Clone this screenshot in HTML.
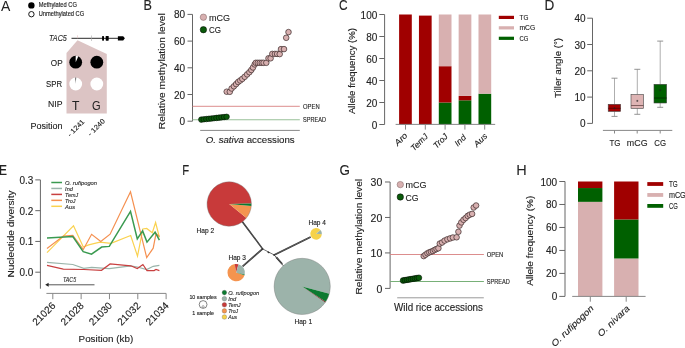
<!DOCTYPE html>
<html><head><meta charset="utf-8"><style>
html,body{margin:0;padding:0;background:#fff;overflow:hidden}
svg{display:block;will-change:transform}
text{font-family:"Liberation Sans", sans-serif;fill:#222;stroke:#222}
</style></head><body>
<svg xmlns="http://www.w3.org/2000/svg" width="685" height="348" viewBox="0 0 685 348">
<rect width="685" height="348" fill="#fff"/>
<text x="1.00" y="10.50" font-size="14" stroke-width="0.00">A</text>
<circle cx="31.40" cy="5.40" r="3.20" fill="#000" stroke="none" stroke-width="0.6"/>
<circle cx="31.40" cy="14.20" r="2.70" fill="#fff" stroke="#000" stroke-width="0.9"/>
<text x="38.70" y="7.40" font-size="7" textLength="38.2" lengthAdjust="spacingAndGlyphs" stroke-width="0.15">Methylated CG</text>
<text x="38.70" y="16.00" font-size="7" textLength="45.5" lengthAdjust="spacingAndGlyphs" stroke-width="0.15">Unmethylated CG</text>
<polygon points="66.5,53 77.5,40.3 106.8,54 106.8,113.4 66.5,113.4" fill="#dcc4c4"/>
<text x="49.00" y="41.10" font-size="8.5" font-style="italic" textLength="17.8" lengthAdjust="spacingAndGlyphs" stroke-width="0.10">TAC5</text>
<line x1="71.50" y1="38.30" x2="124.00" y2="38.30" stroke="#111" stroke-width="0.9"/>
<line x1="77.50" y1="35.30" x2="77.50" y2="38.30" stroke="#e6c0c0" stroke-width="0.6"/>
<line x1="91.50" y1="35.50" x2="91.50" y2="41.00" stroke="#aaa" stroke-width="0.6"/>
<rect x="102.1" y="36" width="1.9" height="4.7" rx="0.6" fill="#000"/>
<rect x="105.7" y="36" width="3" height="4.7" rx="0.6" fill="#000"/>
<path d="M117.9 36.2H123.2L124.9 38.3L123.2 40.6H117.9Z" fill="#000"/>
<circle cx="75.70" cy="62.20" r="6.40" fill="#000" stroke="none" stroke-width="0.6"/>
<path d="M75.70 62.20L75.70 55.80A6.40 6.40 0 0 1 78.30 56.35Z" fill="#fff"/>
<circle cx="96.80" cy="62.20" r="6.40" fill="#000" stroke="none" stroke-width="0.6"/>
<circle cx="75.70" cy="84.00" r="6.40" fill="#fff" stroke="none" stroke-width="0.6"/>
<path d="M75.70 84.00L75.48 77.60A6.40 6.40 0 0 1 76.15 77.62Z" fill="#000"/>
<circle cx="96.80" cy="84.00" r="6.40" fill="#fff" stroke="none" stroke-width="0.6"/>
<text x="75.70" y="110.00" font-size="13.4" text-anchor="middle" textLength="7.4" lengthAdjust="spacingAndGlyphs" stroke-width="0.05">T</text>
<text x="96.20" y="110.00" font-size="13.4" text-anchor="middle" textLength="8.6" lengthAdjust="spacingAndGlyphs" stroke-width="0.05">G</text>
<text x="62.60" y="66.10" font-size="8.8" text-anchor="end" textLength="11.8" lengthAdjust="spacingAndGlyphs" stroke-width="0.12">OP</text>
<text x="62.00" y="86.70" font-size="8.8" text-anchor="end" textLength="16" lengthAdjust="spacingAndGlyphs" stroke-width="0.12">SPR</text>
<text x="62.60" y="107.30" font-size="8.8" text-anchor="end" textLength="14.5" lengthAdjust="spacingAndGlyphs" stroke-width="0.12">NIP</text>
<text x="30.50" y="128.60" font-size="8.8" textLength="32" lengthAdjust="spacingAndGlyphs" stroke-width="0.12">Position</text>
<text x="85.00" y="122.30" font-size="7.04" text-anchor="end" textLength="21" lengthAdjust="spacingAndGlyphs" transform="rotate(-45 85.00 122.30)" stroke-width="0.12">- 1241</text>
<text x="105.40" y="121.60" font-size="7.04" text-anchor="end" textLength="21" lengthAdjust="spacingAndGlyphs" transform="rotate(-45 105.40 121.60)" stroke-width="0.12">- 1240</text>
<text x="143.40" y="10.00" font-size="14" textLength="8.4" lengthAdjust="spacingAndGlyphs" stroke-width="0.12">B</text>
<line x1="192.50" y1="14.40" x2="192.50" y2="121.20" stroke="#666" stroke-width="1"/>
<line x1="187.50" y1="121.20" x2="192.50" y2="121.20" stroke="#666" stroke-width="1"/>
<text x="185.00" y="125.20" font-size="10.0" text-anchor="end" stroke-width="0.12">0</text>
<line x1="187.50" y1="94.50" x2="192.50" y2="94.50" stroke="#666" stroke-width="1"/>
<text x="185.00" y="98.50" font-size="10.0" text-anchor="end" stroke-width="0.12">20</text>
<line x1="187.50" y1="67.80" x2="192.50" y2="67.80" stroke="#666" stroke-width="1"/>
<text x="185.00" y="71.80" font-size="10.0" text-anchor="end" stroke-width="0.12">40</text>
<line x1="187.50" y1="41.10" x2="192.50" y2="41.10" stroke="#666" stroke-width="1"/>
<text x="185.00" y="45.10" font-size="10.0" text-anchor="end" stroke-width="0.12">60</text>
<line x1="187.50" y1="14.40" x2="192.50" y2="14.40" stroke="#666" stroke-width="1"/>
<text x="185.00" y="18.40" font-size="10.0" text-anchor="end" stroke-width="0.12">80</text>
<text x="165.30" y="71.25" font-size="8.98" text-anchor="middle" textLength="116" lengthAdjust="spacingAndGlyphs" transform="rotate(-90 165.30 71.25)" stroke-width="0.12">Relative methylation level</text>
<circle cx="203.40" cy="17.20" r="3.20" fill="#d8b0b0" stroke="#7a6060" stroke-width="0.5"/>
<circle cx="203.40" cy="29.70" r="3.20" fill="#0a5a0a" stroke="#000" stroke-width="0.5"/>
<text x="209.00" y="21.00" font-size="9.4" textLength="21" lengthAdjust="spacingAndGlyphs" stroke-width="0.12">mCG</text>
<text x="209.00" y="33.10" font-size="9.4" textLength="12" lengthAdjust="spacingAndGlyphs" stroke-width="0.12">CG</text>
<line x1="192.50" y1="106.30" x2="299.80" y2="106.30" stroke="#d88080" stroke-width="0.9"/>
<line x1="192.50" y1="119.80" x2="299.80" y2="119.80" stroke="#98c098" stroke-width="1.1"/>
<text x="303.10" y="108.50" font-size="6.5" textLength="16.5" lengthAdjust="spacingAndGlyphs" stroke-width="0.12">OPEN</text>
<text x="303.10" y="121.90" font-size="6.5" textLength="23" lengthAdjust="spacingAndGlyphs" stroke-width="0.12">SPREAD</text>
<line x1="200.20" y1="130.40" x2="299.80" y2="130.40" stroke="#888" stroke-width="1"/>
<text x="205.7" y="142.7" font-size="9" stroke-width="0.12" textLength="89" lengthAdjust="spacingAndGlyphs"><tspan font-style="italic">O. sativa</tspan> accessions</text>
<circle cx="201.30" cy="119.60" r="2.80" fill="#0a5a0a" stroke="#000" stroke-width="0.5"/>
<circle cx="203.83" cy="119.32" r="2.80" fill="#0a5a0a" stroke="#000" stroke-width="0.5"/>
<circle cx="206.36" cy="119.04" r="2.80" fill="#0a5a0a" stroke="#000" stroke-width="0.5"/>
<circle cx="208.89" cy="118.76" r="2.80" fill="#0a5a0a" stroke="#000" stroke-width="0.5"/>
<circle cx="211.42" cy="118.48" r="2.80" fill="#0a5a0a" stroke="#000" stroke-width="0.5"/>
<circle cx="213.95" cy="118.20" r="2.80" fill="#0a5a0a" stroke="#000" stroke-width="0.5"/>
<circle cx="216.48" cy="117.92" r="2.80" fill="#0a5a0a" stroke="#000" stroke-width="0.5"/>
<circle cx="219.01" cy="117.64" r="2.80" fill="#0a5a0a" stroke="#000" stroke-width="0.5"/>
<circle cx="221.54" cy="117.36" r="2.80" fill="#0a5a0a" stroke="#000" stroke-width="0.5"/>
<circle cx="224.07" cy="117.08" r="2.80" fill="#0a5a0a" stroke="#000" stroke-width="0.5"/>
<circle cx="226.60" cy="116.80" r="2.80" fill="#0a5a0a" stroke="#000" stroke-width="0.5"/>
<circle cx="226.70" cy="91.70" r="2.80" fill="#d8b0b0" stroke="#3a2828" stroke-width="0.7"/>
<circle cx="229.80" cy="91.80" r="2.80" fill="#d8b0b0" stroke="#3a2828" stroke-width="0.7"/>
<circle cx="231.60" cy="88.50" r="2.80" fill="#d8b0b0" stroke="#3a2828" stroke-width="0.7"/>
<circle cx="233.90" cy="86.30" r="2.80" fill="#d8b0b0" stroke="#3a2828" stroke-width="0.7"/>
<circle cx="236.10" cy="84.10" r="2.80" fill="#d8b0b0" stroke="#3a2828" stroke-width="0.7"/>
<circle cx="238.10" cy="82.00" r="2.80" fill="#d8b0b0" stroke="#3a2828" stroke-width="0.7"/>
<circle cx="240.20" cy="80.50" r="2.80" fill="#d8b0b0" stroke="#3a2828" stroke-width="0.7"/>
<circle cx="242.30" cy="78.90" r="2.80" fill="#d8b0b0" stroke="#3a2828" stroke-width="0.7"/>
<circle cx="244.70" cy="76.80" r="2.80" fill="#d8b0b0" stroke="#3a2828" stroke-width="0.7"/>
<circle cx="247.10" cy="74.40" r="2.80" fill="#d8b0b0" stroke="#3a2828" stroke-width="0.7"/>
<circle cx="249.40" cy="72.20" r="2.80" fill="#d8b0b0" stroke="#3a2828" stroke-width="0.7"/>
<circle cx="251.30" cy="70.00" r="2.80" fill="#d8b0b0" stroke="#3a2828" stroke-width="0.7"/>
<circle cx="253.00" cy="67.50" r="2.80" fill="#d8b0b0" stroke="#3a2828" stroke-width="0.7"/>
<circle cx="254.70" cy="64.40" r="2.80" fill="#d8b0b0" stroke="#3a2828" stroke-width="0.7"/>
<circle cx="255.80" cy="62.80" r="2.80" fill="#d8b0b0" stroke="#3a2828" stroke-width="0.7"/>
<circle cx="257.80" cy="62.80" r="2.80" fill="#d8b0b0" stroke="#3a2828" stroke-width="0.7"/>
<circle cx="259.80" cy="62.80" r="2.80" fill="#d8b0b0" stroke="#3a2828" stroke-width="0.7"/>
<circle cx="261.80" cy="62.80" r="2.80" fill="#d8b0b0" stroke="#3a2828" stroke-width="0.7"/>
<circle cx="263.60" cy="62.80" r="2.80" fill="#d8b0b0" stroke="#3a2828" stroke-width="0.7"/>
<circle cx="266.30" cy="62.80" r="2.80" fill="#d8b0b0" stroke="#3a2828" stroke-width="0.7"/>
<circle cx="268.50" cy="58.30" r="2.80" fill="#d8b0b0" stroke="#3a2828" stroke-width="0.7"/>
<circle cx="270.60" cy="58.30" r="2.80" fill="#d8b0b0" stroke="#3a2828" stroke-width="0.7"/>
<circle cx="272.30" cy="53.90" r="2.80" fill="#d8b0b0" stroke="#3a2828" stroke-width="0.7"/>
<circle cx="274.90" cy="53.90" r="2.80" fill="#d8b0b0" stroke="#3a2828" stroke-width="0.7"/>
<circle cx="277.10" cy="53.90" r="2.80" fill="#d8b0b0" stroke="#3a2828" stroke-width="0.7"/>
<circle cx="279.70" cy="54.10" r="2.80" fill="#d8b0b0" stroke="#3a2828" stroke-width="0.7"/>
<circle cx="281.00" cy="49.10" r="2.80" fill="#d8b0b0" stroke="#3a2828" stroke-width="0.7"/>
<circle cx="284.00" cy="49.10" r="2.80" fill="#d8b0b0" stroke="#3a2828" stroke-width="0.7"/>
<circle cx="286.20" cy="37.80" r="2.80" fill="#d8b0b0" stroke="#3a2828" stroke-width="0.7"/>
<circle cx="288.50" cy="32.10" r="2.80" fill="#d8b0b0" stroke="#3a2828" stroke-width="0.7"/>
<text x="338.90" y="10.30" font-size="14" textLength="8.6" lengthAdjust="spacingAndGlyphs" stroke-width="0.12">C</text>
<line x1="384.60" y1="14.50" x2="384.60" y2="124.50" stroke="#666" stroke-width="1"/>
<line x1="379.30" y1="124.50" x2="384.60" y2="124.50" stroke="#666" stroke-width="1"/>
<text x="377.30" y="128.50" font-size="10.0" text-anchor="end" stroke-width="0.12">0</text>
<line x1="379.30" y1="102.50" x2="384.60" y2="102.50" stroke="#666" stroke-width="1"/>
<text x="377.30" y="106.50" font-size="10.0" text-anchor="end" stroke-width="0.12">20</text>
<line x1="379.30" y1="80.50" x2="384.60" y2="80.50" stroke="#666" stroke-width="1"/>
<text x="377.30" y="84.50" font-size="10.0" text-anchor="end" stroke-width="0.12">40</text>
<line x1="379.30" y1="58.50" x2="384.60" y2="58.50" stroke="#666" stroke-width="1"/>
<text x="377.30" y="62.50" font-size="10.0" text-anchor="end" stroke-width="0.12">60</text>
<line x1="379.30" y1="36.50" x2="384.60" y2="36.50" stroke="#666" stroke-width="1"/>
<text x="377.30" y="40.50" font-size="10.0" text-anchor="end" stroke-width="0.12">80</text>
<line x1="379.30" y1="14.50" x2="384.60" y2="14.50" stroke="#666" stroke-width="1"/>
<text x="377.30" y="18.50" font-size="10.0" text-anchor="end" stroke-width="0.12">100</text>
<text x="354.70" y="71.00" font-size="8.98" text-anchor="middle" textLength="86.1" lengthAdjust="spacingAndGlyphs" transform="rotate(-90 354.70 71.00)" stroke-width="0.12">Allele frequency (%)</text>
<rect x="399.10" y="14.50" width="12.70" height="110.00" fill="#a00000" />
<rect x="418.95" y="15.60" width="12.70" height="108.90" fill="#a00000" />
<rect x="438.80" y="102.50" width="12.70" height="22.00" fill="#006000" />
<rect x="438.80" y="66.20" width="12.70" height="36.30" fill="#a00000" />
<rect x="438.80" y="14.50" width="12.70" height="51.70" fill="#d8b0b0" />
<rect x="458.65" y="100.30" width="12.70" height="24.20" fill="#006000" />
<rect x="458.65" y="95.90" width="12.70" height="4.40" fill="#a00000" />
<rect x="458.65" y="14.50" width="12.70" height="81.40" fill="#d8b0b0" />
<rect x="478.50" y="93.70" width="12.70" height="30.80" fill="#006000" />
<rect x="478.50" y="14.50" width="12.70" height="79.20" fill="#d8b0b0" />
<line x1="395.60" y1="124.40" x2="495.20" y2="124.40" stroke="#888" stroke-width="1"/>
<line x1="405.50" y1="124.40" x2="405.50" y2="129.60" stroke="#888" stroke-width="1"/>
<text x="408.00" y="136.00" font-size="8.36" text-anchor="end" font-style="italic" textLength="14.5" lengthAdjust="spacingAndGlyphs" transform="rotate(-45 408.00 136.00)" stroke-width="0.12">Aro</text>
<line x1="425.30" y1="124.40" x2="425.30" y2="129.60" stroke="#888" stroke-width="1"/>
<text x="428.60" y="137.00" font-size="8.36" text-anchor="end" font-style="italic" textLength="20.5" lengthAdjust="spacingAndGlyphs" transform="rotate(-45 428.60 137.00)" stroke-width="0.12">TemJ</text>
<line x1="445.10" y1="124.40" x2="445.10" y2="129.60" stroke="#888" stroke-width="1"/>
<text x="448.40" y="137.00" font-size="8.36" text-anchor="end" font-style="italic" textLength="16.8" lengthAdjust="spacingAndGlyphs" transform="rotate(-45 448.40 137.00)" stroke-width="0.12">TroJ</text>
<line x1="464.90" y1="124.40" x2="464.90" y2="129.60" stroke="#888" stroke-width="1"/>
<text x="466.70" y="138.00" font-size="8.36" text-anchor="end" font-style="italic" textLength="12.5" lengthAdjust="spacingAndGlyphs" transform="rotate(-45 466.70 138.00)" stroke-width="0.12">Ind</text>
<line x1="484.70" y1="124.40" x2="484.70" y2="129.60" stroke="#888" stroke-width="1"/>
<text x="488.00" y="136.50" font-size="8.36" text-anchor="end" font-style="italic" textLength="15.5" lengthAdjust="spacingAndGlyphs" transform="rotate(-45 488.00 136.50)" stroke-width="0.12">Aus</text>
<rect x="498.80" y="15.80" width="15.20" height="3.20" fill="#a00000" />
<text x="519.50" y="19.90" font-size="6.93" textLength="8.9" lengthAdjust="spacingAndGlyphs" stroke-width="0.12">TG</text>
<rect x="498.80" y="26.25" width="15.20" height="3.20" fill="#d8b0b0" />
<text x="519.50" y="30.35" font-size="6.93" textLength="15.7" lengthAdjust="spacingAndGlyphs" stroke-width="0.12">mCG</text>
<rect x="498.80" y="36.70" width="15.20" height="3.20" fill="#006000" />
<text x="519.50" y="40.80" font-size="6.93" textLength="8.9" lengthAdjust="spacingAndGlyphs" stroke-width="0.12">CG</text>
<text x="544.40" y="10.00" font-size="14" textLength="9.8" lengthAdjust="spacingAndGlyphs" stroke-width="0.12">D</text>
<line x1="592.50" y1="18.20" x2="592.50" y2="123.40" stroke="#666" stroke-width="1"/>
<line x1="587.20" y1="123.40" x2="592.50" y2="123.40" stroke="#666" stroke-width="1"/>
<text x="585.60" y="127.40" font-size="10.0" text-anchor="end" stroke-width="0.12">0</text>
<line x1="587.20" y1="97.10" x2="592.50" y2="97.10" stroke="#666" stroke-width="1"/>
<text x="585.60" y="101.10" font-size="10.0" text-anchor="end" stroke-width="0.12">10</text>
<line x1="587.20" y1="70.80" x2="592.50" y2="70.80" stroke="#666" stroke-width="1"/>
<text x="585.60" y="74.80" font-size="10.0" text-anchor="end" stroke-width="0.12">20</text>
<line x1="587.20" y1="44.50" x2="592.50" y2="44.50" stroke="#666" stroke-width="1"/>
<text x="585.60" y="48.50" font-size="10.0" text-anchor="end" stroke-width="0.12">30</text>
<line x1="587.20" y1="18.20" x2="592.50" y2="18.20" stroke="#666" stroke-width="1"/>
<text x="585.60" y="22.20" font-size="10.0" text-anchor="end" stroke-width="0.12">40</text>
<text x="560.90" y="68.00" font-size="8.98" text-anchor="middle" textLength="60.2" lengthAdjust="spacingAndGlyphs" transform="rotate(-90 560.90 68.00)" stroke-width="0.12">Tiller angle (°)</text>
<line x1="602.90" y1="130.40" x2="672.30" y2="130.40" stroke="#888" stroke-width="1"/>
<line x1="614.50" y1="130.40" x2="614.50" y2="133.50" stroke="#888" stroke-width="1"/>
<text x="614.90" y="145.60" font-size="9.5" text-anchor="middle" textLength="11" lengthAdjust="spacingAndGlyphs" stroke-width="0.12">TG</text>
<line x1="637.20" y1="130.40" x2="637.20" y2="133.50" stroke="#888" stroke-width="1"/>
<text x="637.20" y="145.60" font-size="9.5" text-anchor="middle" textLength="20.7" lengthAdjust="spacingAndGlyphs" stroke-width="0.12">mCG</text>
<line x1="660.20" y1="130.40" x2="660.20" y2="133.50" stroke="#888" stroke-width="1"/>
<text x="660.20" y="145.60" font-size="9.5" text-anchor="middle" textLength="11.7" lengthAdjust="spacingAndGlyphs" stroke-width="0.12">CG</text>
<line x1="614.50" y1="78.20" x2="614.50" y2="104.30" stroke="#999" stroke-width="0.8"/>
<line x1="614.50" y1="111.40" x2="614.50" y2="116.40" stroke="#999" stroke-width="0.8"/>
<line x1="611.50" y1="78.20" x2="617.50" y2="78.20" stroke="#888" stroke-width="0.9"/>
<line x1="611.50" y1="116.40" x2="617.50" y2="116.40" stroke="#888" stroke-width="0.9"/>
<rect x="608.2" y="104.3" width="12.40" height="7.10" fill="#a00000" stroke="#444" stroke-width="0.6"/>
<line x1="608.20" y1="108.30" x2="620.60" y2="108.30" stroke="#5a0000" stroke-width="0.8"/>
<line x1="613.50" y1="108.20" x2="615.50" y2="108.20" stroke="#222" stroke-width="0.6"/>
<line x1="614.50" y1="107.20" x2="614.50" y2="109.20" stroke="#222" stroke-width="0.6"/>
<line x1="637.30" y1="69.30" x2="637.30" y2="94.50" stroke="#999" stroke-width="0.8"/>
<line x1="637.30" y1="108.40" x2="637.30" y2="114.30" stroke="#999" stroke-width="0.8"/>
<line x1="634.30" y1="69.30" x2="640.30" y2="69.30" stroke="#888" stroke-width="0.9"/>
<line x1="634.30" y1="114.30" x2="640.30" y2="114.30" stroke="#888" stroke-width="0.9"/>
<rect x="631" y="94.5" width="12.50" height="13.90" fill="#deb4b4" stroke="#444" stroke-width="0.6"/>
<line x1="631.00" y1="105.50" x2="643.50" y2="105.50" stroke="#6a4848" stroke-width="0.8"/>
<line x1="636.30" y1="100.90" x2="638.30" y2="100.90" stroke="#222" stroke-width="0.6"/>
<line x1="637.30" y1="99.90" x2="637.30" y2="101.90" stroke="#222" stroke-width="0.6"/>
<line x1="660.20" y1="41.10" x2="660.20" y2="84.30" stroke="#999" stroke-width="0.8"/>
<line x1="660.20" y1="103.00" x2="660.20" y2="107.30" stroke="#999" stroke-width="0.8"/>
<line x1="657.20" y1="41.10" x2="663.20" y2="41.10" stroke="#888" stroke-width="0.9"/>
<line x1="657.20" y1="107.30" x2="663.20" y2="107.30" stroke="#888" stroke-width="0.9"/>
<rect x="654" y="84.3" width="12.60" height="18.70" fill="#006000" stroke="#444" stroke-width="0.6"/>
<line x1="654.00" y1="98.00" x2="666.60" y2="98.00" stroke="#002a00" stroke-width="0.8"/>
<line x1="659.20" y1="90.10" x2="661.20" y2="90.10" stroke="#222" stroke-width="0.6"/>
<line x1="660.20" y1="89.10" x2="660.20" y2="91.10" stroke="#222" stroke-width="0.6"/>
<text x="-1.00" y="175.20" font-size="15.5" textLength="8" lengthAdjust="spacingAndGlyphs" stroke-width="0.12">E</text>
<line x1="40.40" y1="179.90" x2="40.40" y2="288.70" stroke="#666" stroke-width="1"/>
<line x1="35.30" y1="272.20" x2="40.40" y2="272.20" stroke="#666" stroke-width="1"/>
<text x="33.40" y="276.20" font-size="10.5" text-anchor="end" textLength="13.9" lengthAdjust="spacingAndGlyphs" stroke-width="0.12">0.0</text>
<line x1="35.30" y1="241.43" x2="40.40" y2="241.43" stroke="#666" stroke-width="1"/>
<text x="33.40" y="245.43" font-size="10.5" text-anchor="end" textLength="13.9" lengthAdjust="spacingAndGlyphs" stroke-width="0.12">0.1</text>
<line x1="35.30" y1="210.66" x2="40.40" y2="210.66" stroke="#666" stroke-width="1"/>
<text x="33.40" y="214.66" font-size="10.5" text-anchor="end" textLength="13.9" lengthAdjust="spacingAndGlyphs" stroke-width="0.12">0.2</text>
<line x1="35.30" y1="179.89" x2="40.40" y2="179.89" stroke="#666" stroke-width="1"/>
<text x="33.40" y="183.89" font-size="10.5" text-anchor="end" textLength="13.9" lengthAdjust="spacingAndGlyphs" stroke-width="0.12">0.3</text>
<text x="13.60" y="234.00" font-size="8.98" text-anchor="middle" textLength="87" lengthAdjust="spacingAndGlyphs" transform="rotate(-90 13.60 234.00)" stroke-width="0.12">Nucleotide diversity</text>
<line x1="46.40" y1="293.40" x2="166.10" y2="293.40" stroke="#888" stroke-width="1"/>
<line x1="52.80" y1="293.40" x2="52.80" y2="299.20" stroke="#888" stroke-width="1"/>
<text x="56.10" y="306.30" font-size="10.0" text-anchor="end" transform="rotate(-45 56.10 306.30)" stroke-width="0.12">21026</text>
<line x1="81.13" y1="293.40" x2="81.13" y2="299.20" stroke="#888" stroke-width="1"/>
<text x="84.43" y="306.30" font-size="10.0" text-anchor="end" transform="rotate(-45 84.43 306.30)" stroke-width="0.12">21028</text>
<line x1="109.46" y1="293.40" x2="109.46" y2="299.20" stroke="#888" stroke-width="1"/>
<text x="112.76" y="306.30" font-size="10.0" text-anchor="end" transform="rotate(-45 112.76 306.30)" stroke-width="0.12">21030</text>
<line x1="137.79" y1="293.40" x2="137.79" y2="299.20" stroke="#888" stroke-width="1"/>
<text x="141.09" y="306.30" font-size="10.0" text-anchor="end" transform="rotate(-45 141.09 306.30)" stroke-width="0.12">21032</text>
<line x1="166.12" y1="293.40" x2="166.12" y2="299.20" stroke="#888" stroke-width="1"/>
<text x="169.42" y="306.30" font-size="10.0" text-anchor="end" transform="rotate(-45 169.42 306.30)" stroke-width="0.12">21034</text>
<text x="78.60" y="341.70" font-size="9.5" textLength="54.6" lengthAdjust="spacingAndGlyphs" stroke-width="0.12">Position (kb)</text>
<line x1="47.00" y1="284.80" x2="94.50" y2="284.80" stroke="#444" stroke-width="0.9"/>
<path d="M45.2 284.8L48.6 282.8L48.6 286.8Z" fill="#222"/>
<text x="62.90" y="282.00" font-size="7" font-style="italic" textLength="13.2" lengthAdjust="spacingAndGlyphs" stroke-width="0.08">TAC5</text>
<line x1="51.30" y1="182.50" x2="62.00" y2="182.50" stroke="#3a9a50" stroke-width="1.5"/>
<text x="65.10" y="184.80" font-size="5.72" font-style="italic" textLength="32" lengthAdjust="spacingAndGlyphs" stroke-width="0.10">O. rufipogon</text>
<line x1="51.30" y1="188.45" x2="62.00" y2="188.45" stroke="#9ab4aa" stroke-width="1.5"/>
<text x="65.10" y="190.75" font-size="5.72" font-style="italic" textLength="7.8" lengthAdjust="spacingAndGlyphs" stroke-width="0.10">Ind</text>
<line x1="51.30" y1="194.40" x2="62.00" y2="194.40" stroke="#c84040" stroke-width="1.5"/>
<text x="65.10" y="196.70" font-size="5.72" font-style="italic" textLength="13" lengthAdjust="spacingAndGlyphs" stroke-width="0.10">TemJ</text>
<line x1="51.30" y1="200.35" x2="62.00" y2="200.35" stroke="#f59050" stroke-width="1.5"/>
<text x="65.10" y="202.65" font-size="5.72" font-style="italic" textLength="10.5" lengthAdjust="spacingAndGlyphs" stroke-width="0.10">TroJ</text>
<line x1="51.30" y1="206.30" x2="62.00" y2="206.30" stroke="#fad250" stroke-width="1.5"/>
<text x="65.10" y="208.60" font-size="5.72" font-style="italic" textLength="10" lengthAdjust="spacingAndGlyphs" stroke-width="0.10">Aus</text>
<polyline points="47.0,262.4 72.8,264.5 83.8,268.4 91.7,267.3 109.2,268.6 130.7,265.8 137.3,267.0 146.7,269.5 153.2,266.3 159.4,265.4" fill="none" stroke="#9ab4aa" stroke-width="1.2" stroke-linejoin="miter"/>
<polyline points="47.0,265.3 63.3,269.2 83.8,269.5 101.5,270.3 110.1,263.9 130.7,265.8 137.3,268.6 142.9,264.5 147.0,270.6 154.1,270.6 156.0,269.5 159.4,270.6" fill="none" stroke="#c84040" stroke-width="1.2" stroke-linejoin="miter"/>
<polyline points="47.0,252.6 73.5,225.8 83.3,247.1 88.7,244.9 99.9,242.1 111.0,243.4 130.7,235.5 137.5,256.1 142.9,229.0 146.7,228.4 152.3,232.7 155.6,222.5 159.4,237.4" fill="none" stroke="#fad250" stroke-width="1.2" stroke-linejoin="miter"/>
<polyline points="47.0,248.4 63.3,236.1 72.8,235.3 83.3,249.5 91.6,234.3 100.8,241.5 110.1,234.2 130.5,191.8 146.7,257.6 153.2,248.2 156.0,233.7 159.4,236.5" fill="none" stroke="#f59050" stroke-width="1.2" stroke-linejoin="miter"/>
<polyline points="47.0,238.1 72.8,236.5 83.2,251.6 91.5,254.2 101.7,247.1 109.3,246.4 130.5,211.4 137.3,238.9 142.6,230.9 147.0,242.1 155.1,232.2 159.4,240.2" fill="none" stroke="#3a9a50" stroke-width="1.5" stroke-linejoin="miter"/>
<text x="182.30" y="174.80" font-size="14.3" textLength="6.9" lengthAdjust="spacingAndGlyphs" stroke-width="0.10">F</text>
<line x1="242.00" y1="221.20" x2="262.60" y2="248.90" stroke="#2a2a2a" stroke-width="1.5"/>
<line x1="242.00" y1="221.20" x2="262.60" y2="248.90" stroke="#9a9a9a" stroke-width="0.35"/>
<line x1="262.60" y1="248.90" x2="242.60" y2="266.30" stroke="#2a2a2a" stroke-width="1.7"/>
<line x1="262.60" y1="248.90" x2="242.60" y2="266.30" stroke="#9a9a9a" stroke-width="0.45"/>
<line x1="262.60" y1="248.90" x2="274.10" y2="254.90" stroke="#333" stroke-width="0.7"/>
<line x1="274.10" y1="254.90" x2="310.60" y2="237.00" stroke="#2a2a2a" stroke-width="1.7"/>
<line x1="274.10" y1="254.90" x2="310.60" y2="237.00" stroke="#9a9a9a" stroke-width="0.45"/>
<line x1="274.10" y1="254.90" x2="284.00" y2="266.50" stroke="#333" stroke-width="0.8"/>
<line x1="276.20" y1="257.10" x2="282.20" y2="264.00" stroke="#2a2a2a" stroke-width="1.7"/>
<line x1="276.20" y1="257.10" x2="282.20" y2="264.00" stroke="#9a9a9a" stroke-width="0.45"/>
<line x1="267.60" y1="251.90" x2="269.40" y2="252.80" stroke="#333" stroke-width="1.4"/>
<circle cx="262.60" cy="248.90" r="0.90" fill="#333" stroke="none" stroke-width="0.6"/>
<circle cx="274.10" cy="254.90" r="0.90" fill="#333" stroke="none" stroke-width="0.6"/>
<path d="M229.20 204.00L246.45 217.97A22.20 22.20 0 1 1 251.40 203.61Z" fill="#c83a3a"/>
<path d="M229.20 204.00L251.32 205.93A22.20 22.20 0 0 1 246.45 217.97Z" fill="#f5944f"/>
<path d="M229.20 204.00L251.40 203.61A22.20 22.20 0 0 1 251.32 205.93Z" fill="#0c7a30"/>
<circle cx="229.2" cy="204" r="22.2" fill="none" stroke="#777" stroke-width="0.4"/>
<text x="196.50" y="233.40" font-size="7.5" textLength="17.6" lengthAdjust="spacingAndGlyphs" stroke-width="0.15">Hap 2</text>
<path d="M236.20 272.60L244.52 275.14A8.70 8.70 0 1 1 234.69 264.03Z" fill="#f5944f"/>
<path d="M236.20 272.60L234.69 264.03A8.70 8.70 0 0 1 238.45 264.20Z" fill="#c83a3a"/>
<path d="M236.20 272.60L238.45 264.20A8.70 8.70 0 0 1 244.71 274.41Z" fill="#9cb3aa"/>
<path d="M236.20 272.60L244.71 274.41A8.70 8.70 0 0 1 244.52 275.14Z" fill="#0c7a30"/>
<text x="228.50" y="259.50" font-size="7.5" textLength="17.4" lengthAdjust="spacingAndGlyphs" stroke-width="0.15">Hap 3</text>
<path d="M316.10 233.80L321.88 234.31A5.80 5.80 0 1 1 320.54 230.07Z" fill="#f6d24a"/>
<path d="M316.10 233.80L320.54 230.07A5.80 5.80 0 0 1 321.88 234.31Z" fill="#9cb3aa"/>
<text x="308.50" y="225.30" font-size="7.5" textLength="17.4" lengthAdjust="spacingAndGlyphs" stroke-width="0.15">Hap 4</text>
<path d="M302.20 286.40L325.22 302.52A28.10 28.10 0 1 1 329.34 293.67Z" fill="#9cb3aa"/>
<path d="M302.20 286.40L329.34 293.67A28.10 28.10 0 0 1 325.77 301.70Z" fill="#0c7a30"/>
<path d="M302.20 286.40L325.77 301.70A28.10 28.10 0 0 1 325.22 302.52Z" fill="#6a2a20"/>
<circle cx="302.2" cy="286.4" r="28.1" fill="none" stroke="#777" stroke-width="0.4"/>
<text x="294.40" y="324.00" font-size="7.5" textLength="17.7" lengthAdjust="spacingAndGlyphs" stroke-width="0.15">Hap 1</text>
<text x="189.40" y="299.00" font-size="5.8" textLength="27.4" lengthAdjust="spacingAndGlyphs" stroke-width="0.12">10 samples</text>
<circle cx="203.10" cy="304.50" r="3.90" fill="#fff" stroke="#333" stroke-width="0.6"/>
<circle cx="203.10" cy="306.60" r="1.00" fill="#fff" stroke="#333" stroke-width="0.4"/>
<text x="192.20" y="315.20" font-size="5.8" textLength="21.8" lengthAdjust="spacingAndGlyphs" stroke-width="0.12">1 sample</text>
<circle cx="224.40" cy="292.60" r="2.30" fill="#0c7a30" stroke="#555" stroke-width="0.3"/>
<text x="228.20" y="294.70" font-size="5.28" font-style="italic" textLength="31" lengthAdjust="spacingAndGlyphs" stroke-width="0.10">O. rufipogon</text>
<circle cx="224.40" cy="298.70" r="2.30" fill="#9cb3aa" stroke="#555" stroke-width="0.3"/>
<text x="228.20" y="300.80" font-size="5.28" font-style="italic" textLength="8" lengthAdjust="spacingAndGlyphs" stroke-width="0.10">Ind</text>
<circle cx="224.40" cy="304.80" r="2.30" fill="#c83a3a" stroke="#555" stroke-width="0.3"/>
<text x="228.20" y="306.90" font-size="5.28" font-style="italic" textLength="12.3" lengthAdjust="spacingAndGlyphs" stroke-width="0.10">TemJ</text>
<circle cx="224.40" cy="310.90" r="2.30" fill="#f5944f" stroke="#555" stroke-width="0.3"/>
<text x="228.20" y="313.00" font-size="5.28" font-style="italic" textLength="9.9" lengthAdjust="spacingAndGlyphs" stroke-width="0.10">TroJ</text>
<circle cx="224.40" cy="317.00" r="2.30" fill="#f6d24a" stroke="#555" stroke-width="0.3"/>
<text x="228.20" y="319.10" font-size="5.28" font-style="italic" textLength="9" lengthAdjust="spacingAndGlyphs" stroke-width="0.10">Aus</text>
<text x="339.60" y="175.30" font-size="15" textLength="10.4" lengthAdjust="spacingAndGlyphs" stroke-width="0.10">G</text>
<line x1="390.10" y1="182.00" x2="390.10" y2="288.40" stroke="#666" stroke-width="1"/>
<line x1="385.00" y1="288.40" x2="390.10" y2="288.40" stroke="#666" stroke-width="1"/>
<text x="382.30" y="292.60" font-size="10.5" text-anchor="end" stroke-width="0.12">0</text>
<line x1="385.00" y1="252.93" x2="390.10" y2="252.93" stroke="#666" stroke-width="1"/>
<text x="382.30" y="257.13" font-size="10.5" text-anchor="end" stroke-width="0.12">10</text>
<line x1="385.00" y1="217.46" x2="390.10" y2="217.46" stroke="#666" stroke-width="1"/>
<text x="382.30" y="221.66" font-size="10.5" text-anchor="end" stroke-width="0.12">20</text>
<line x1="385.00" y1="181.99" x2="390.10" y2="181.99" stroke="#666" stroke-width="1"/>
<text x="382.30" y="186.19" font-size="10.5" text-anchor="end" stroke-width="0.12">30</text>
<text x="362.50" y="236.70" font-size="8.98" text-anchor="middle" textLength="115.7" lengthAdjust="spacingAndGlyphs" transform="rotate(-90 362.50 236.70)" stroke-width="0.12">Relative methylation level</text>
<circle cx="400.30" cy="184.60" r="3.20" fill="#d8b0b0" stroke="#7a6060" stroke-width="0.5"/>
<circle cx="400.30" cy="197.00" r="3.20" fill="#0a5a0a" stroke="#000" stroke-width="0.5"/>
<text x="405.50" y="188.20" font-size="9.4" textLength="21" lengthAdjust="spacingAndGlyphs" stroke-width="0.12">mCG</text>
<text x="405.50" y="200.60" font-size="9.4" textLength="13" lengthAdjust="spacingAndGlyphs" stroke-width="0.12">CG</text>
<line x1="390.10" y1="254.50" x2="483.90" y2="254.50" stroke="#d88080" stroke-width="0.9"/>
<line x1="390.10" y1="281.50" x2="483.90" y2="281.50" stroke="#78b078" stroke-width="1.0"/>
<text x="486.80" y="256.80" font-size="6.5" textLength="16.5" lengthAdjust="spacingAndGlyphs" stroke-width="0.12">OPEN</text>
<text x="486.80" y="283.80" font-size="6.5" textLength="23" lengthAdjust="spacingAndGlyphs" stroke-width="0.12">SPREAD</text>
<line x1="397.20" y1="297.80" x2="483.80" y2="297.80" stroke="#999" stroke-width="1"/>
<text x="394.00" y="310.50" font-size="10.3" textLength="89" lengthAdjust="spacingAndGlyphs" stroke-width="0.12">Wild rice accessions</text>
<circle cx="403.10" cy="280.50" r="2.90" fill="#0a5a0a" stroke="#000" stroke-width="0.5"/>
<circle cx="405.08" cy="280.16" r="2.90" fill="#0a5a0a" stroke="#000" stroke-width="0.5"/>
<circle cx="407.05" cy="279.82" r="2.90" fill="#0a5a0a" stroke="#000" stroke-width="0.5"/>
<circle cx="409.03" cy="279.49" r="2.90" fill="#0a5a0a" stroke="#000" stroke-width="0.5"/>
<circle cx="411.00" cy="279.15" r="2.90" fill="#0a5a0a" stroke="#000" stroke-width="0.5"/>
<circle cx="412.98" cy="278.81" r="2.90" fill="#0a5a0a" stroke="#000" stroke-width="0.5"/>
<circle cx="414.95" cy="278.48" r="2.90" fill="#0a5a0a" stroke="#000" stroke-width="0.5"/>
<circle cx="416.93" cy="278.14" r="2.90" fill="#0a5a0a" stroke="#000" stroke-width="0.5"/>
<circle cx="418.90" cy="277.80" r="2.90" fill="#0a5a0a" stroke="#000" stroke-width="0.5"/>
<circle cx="423.70" cy="256.10" r="2.80" fill="#d8b0b0" stroke="#3a2828" stroke-width="0.7"/>
<circle cx="425.50" cy="254.70" r="2.80" fill="#d8b0b0" stroke="#3a2828" stroke-width="0.7"/>
<circle cx="427.40" cy="253.30" r="2.80" fill="#d8b0b0" stroke="#3a2828" stroke-width="0.7"/>
<circle cx="429.20" cy="252.40" r="2.80" fill="#d8b0b0" stroke="#3a2828" stroke-width="0.7"/>
<circle cx="431.00" cy="251.70" r="2.80" fill="#d8b0b0" stroke="#3a2828" stroke-width="0.7"/>
<circle cx="432.90" cy="251.00" r="2.80" fill="#d8b0b0" stroke="#3a2828" stroke-width="0.7"/>
<circle cx="434.70" cy="249.90" r="2.80" fill="#d8b0b0" stroke="#3a2828" stroke-width="0.7"/>
<circle cx="436.50" cy="249.00" r="2.80" fill="#d8b0b0" stroke="#3a2828" stroke-width="0.7"/>
<circle cx="438.40" cy="248.20" r="2.80" fill="#d8b0b0" stroke="#3a2828" stroke-width="0.7"/>
<circle cx="439.80" cy="243.60" r="2.80" fill="#d8b0b0" stroke="#3a2828" stroke-width="0.7"/>
<circle cx="442.10" cy="242.50" r="2.80" fill="#d8b0b0" stroke="#3a2828" stroke-width="0.7"/>
<circle cx="444.60" cy="240.60" r="2.80" fill="#d8b0b0" stroke="#3a2828" stroke-width="0.7"/>
<circle cx="447.40" cy="239.30" r="2.80" fill="#d8b0b0" stroke="#3a2828" stroke-width="0.7"/>
<circle cx="450.10" cy="238.40" r="2.80" fill="#d8b0b0" stroke="#3a2828" stroke-width="0.7"/>
<circle cx="452.90" cy="237.50" r="2.80" fill="#d8b0b0" stroke="#3a2828" stroke-width="0.7"/>
<circle cx="456.60" cy="237.30" r="2.80" fill="#d8b0b0" stroke="#3a2828" stroke-width="0.7"/>
<circle cx="458.40" cy="231.80" r="2.80" fill="#d8b0b0" stroke="#3a2828" stroke-width="0.7"/>
<circle cx="459.50" cy="225.60" r="2.80" fill="#d8b0b0" stroke="#3a2828" stroke-width="0.7"/>
<circle cx="461.30" cy="222.40" r="2.80" fill="#d8b0b0" stroke="#3a2828" stroke-width="0.7"/>
<circle cx="463.50" cy="219.80" r="2.80" fill="#d8b0b0" stroke="#3a2828" stroke-width="0.7"/>
<circle cx="465.60" cy="218.00" r="2.80" fill="#d8b0b0" stroke="#3a2828" stroke-width="0.7"/>
<circle cx="467.70" cy="215.90" r="2.80" fill="#d8b0b0" stroke="#3a2828" stroke-width="0.7"/>
<circle cx="469.70" cy="214.70" r="2.80" fill="#d8b0b0" stroke="#3a2828" stroke-width="0.7"/>
<circle cx="472.10" cy="213.90" r="2.80" fill="#d8b0b0" stroke="#3a2828" stroke-width="0.7"/>
<circle cx="473.70" cy="207.50" r="2.80" fill="#d8b0b0" stroke="#3a2828" stroke-width="0.7"/>
<circle cx="476.10" cy="205.50" r="2.80" fill="#d8b0b0" stroke="#3a2828" stroke-width="0.7"/>
<text x="516.20" y="174.90" font-size="14.5" stroke-width="0.00">H</text>
<line x1="565.00" y1="181.50" x2="565.00" y2="296.40" stroke="#666" stroke-width="1"/>
<line x1="559.30" y1="296.40" x2="565.00" y2="296.40" stroke="#666" stroke-width="1"/>
<text x="557.20" y="300.40" font-size="10.0" text-anchor="end" stroke-width="0.12">0</text>
<line x1="559.30" y1="273.42" x2="565.00" y2="273.42" stroke="#666" stroke-width="1"/>
<text x="557.20" y="277.42" font-size="10.0" text-anchor="end" stroke-width="0.12">20</text>
<line x1="559.30" y1="250.44" x2="565.00" y2="250.44" stroke="#666" stroke-width="1"/>
<text x="557.20" y="254.44" font-size="10.0" text-anchor="end" stroke-width="0.12">40</text>
<line x1="559.30" y1="227.46" x2="565.00" y2="227.46" stroke="#666" stroke-width="1"/>
<text x="557.20" y="231.46" font-size="10.0" text-anchor="end" stroke-width="0.12">60</text>
<line x1="559.30" y1="204.48" x2="565.00" y2="204.48" stroke="#666" stroke-width="1"/>
<text x="557.20" y="208.48" font-size="10.0" text-anchor="end" stroke-width="0.12">80</text>
<line x1="559.30" y1="181.50" x2="565.00" y2="181.50" stroke="#666" stroke-width="1"/>
<text x="557.20" y="185.50" font-size="10.0" text-anchor="end" stroke-width="0.12">100</text>
<text x="533.00" y="240.70" font-size="8.98" text-anchor="middle" textLength="90.1" lengthAdjust="spacingAndGlyphs" transform="rotate(-90 533.00 240.70)" stroke-width="0.12">Allele frequency (%)</text>
<rect x="578.00" y="201.84" width="24.40" height="94.56" fill="#d8b0b0" />
<rect x="578.00" y="188.05" width="24.40" height="13.79" fill="#006000" />
<rect x="578.00" y="181.50" width="24.40" height="6.55" fill="#a00000" />
<rect x="614.10" y="258.48" width="24.40" height="37.92" fill="#d8b0b0" />
<rect x="614.10" y="219.42" width="24.40" height="39.07" fill="#006000" />
<rect x="614.10" y="181.50" width="24.40" height="37.92" fill="#a00000" />
<line x1="572.20" y1="296.40" x2="645.60" y2="296.40" stroke="#888" stroke-width="1"/>
<line x1="590.30" y1="296.40" x2="590.30" y2="301.70" stroke="#888" stroke-width="1"/>
<text x="594.30" y="309.00" font-size="8.8" text-anchor="end" font-style="italic" textLength="55.03" lengthAdjust="spacingAndGlyphs" transform="rotate(-44 594.30 309.00)" stroke-width="0.12">O. rufipogon</text>
<line x1="626.20" y1="296.40" x2="626.20" y2="301.70" stroke="#888" stroke-width="1"/>
<text x="630.20" y="309.00" font-size="8.8" text-anchor="end" font-style="italic" textLength="40.57" lengthAdjust="spacingAndGlyphs" transform="rotate(-44 630.20 309.00)" stroke-width="0.12">O. nivara</text>
<rect x="647.30" y="182.10" width="15.90" height="3.80" fill="#a00000" />
<text x="668.90" y="186.90" font-size="8.3" textLength="8.8" lengthAdjust="spacingAndGlyphs" stroke-width="0.12">TG</text>
<rect x="647.30" y="193.05" width="15.90" height="3.80" fill="#d8b0b0" />
<text x="668.90" y="197.85" font-size="8.3" textLength="16.8" lengthAdjust="spacingAndGlyphs" stroke-width="0.12">mCG</text>
<rect x="647.30" y="204.00" width="15.90" height="3.80" fill="#006000" />
<text x="668.90" y="208.80" font-size="8.3" textLength="8.8" lengthAdjust="spacingAndGlyphs" stroke-width="0.12">CG</text>
</svg></body></html>
